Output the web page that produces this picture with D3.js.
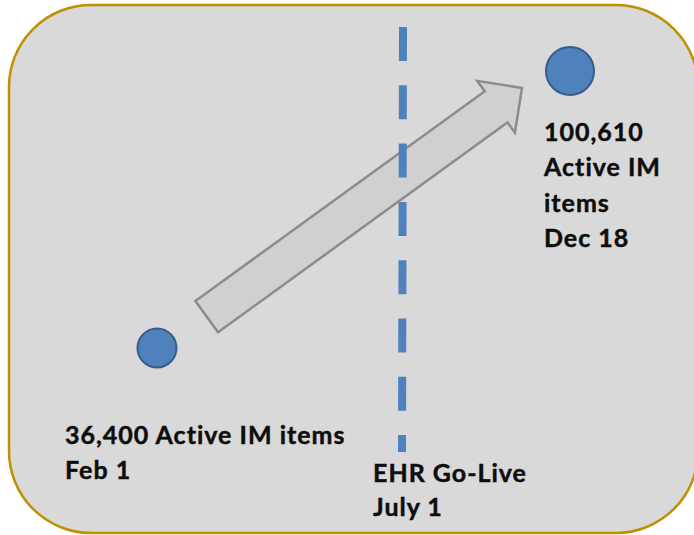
<!DOCTYPE html>
<html>
<head>
<meta charset="utf-8">
<script src="https://cdn.jsdelivr.net/npm/d3@7"></script>
<style>
  html, body { margin: 0; padding: 0; background: #ffffff; }
  svg { display: block; }
  text { font-family: Lato, "Open Sans", sans-serif; font-weight: 700; fill: #0d0d0d; stroke: #0d0d0d; stroke-width: 0.45; }
</style>
</head>
<body>
<svg id="chart" width="694" height="535"></svg>
<script>
// ---- data ----
const dates = ["Feb 1", "July 1", "Dec 18"];
const pointDates = ["Feb 1", "Dec 18"];
const activeItems = [36400, 100610];
const startLabel = ["36,400 Active IM items", "Feb 1"];
const endLabel = ["100,610", "Active IM", "items", "Dec 18"];
const goLiveLabel = ["EHR Go-Live", "July 1"];

const svg = d3.select("#chart");

// scales
const x = d3.scaleOrdinal().domain(dates).range([157, 403, 570]);
const y = d3.scaleLinear().domain([36400, 100610]).range([348, 71]);
const r = d3.scaleLinear().domain([36400, 100610]).range([19.5, 24]);

// background panel
svg.append("rect")
  .attr("x", 9).attr("y", 5).attr("width", 689).attr("height", 528)
  .attr("rx", 82).attr("ry", 82)
  .attr("fill", "#d9d9d9").attr("stroke", "#bf9000").attr("stroke-width", 2.5);

// arrow (from near start point to near end point)
const tail = [206.7, 316.7], tip = [522, 88];
const dx = tip[0] - tail[0], dy = tip[1] - tail[1];
const len = Math.hypot(dx, dy);
const ang = Math.atan2(dy, dx) * 180 / Math.PI;
const sw = 19.3, hw = 32, hl = 32;
const arrowPts = [[0, -sw], [len - hl, -sw], [len - hl, -hw], [len, 0], [len - hl, hw], [len - hl, sw], [0, sw]];
svg.append("path")
  .attr("d", d3.line()(arrowPts) + "Z")
  .attr("transform", `translate(${tail[0]},${tail[1]}) rotate(${ang})`)
  .attr("fill", "#d0d0d0").attr("stroke", "#8c8c8c").attr("stroke-width", 2.5)
  .attr("stroke-linejoin", "miter");

// dashed go-live line
svg.append("line")
  .attr("x1", x("July 1")).attr("x2", x("July 1") - 1)
  .attr("y1", 27).attr("y2", 452)
  .attr("stroke", "#4f81bd").attr("stroke-width", 8)
  .attr("stroke-dasharray", "34,24.3");

// points
svg.selectAll("circle.pt").data(activeItems).join("circle")
  .attr("class", "pt")
  .attr("cx", (d, i) => x(pointDates[i]))
  .attr("cy", d => y(d))
  .attr("r", d => r(d))
  .attr("fill", "#4f81bd").attr("stroke", "#385d8a").attr("stroke-width", 2);

// labels
const fs = 25;
function lines(arr, x0, y0, lh) {
  const t = svg.append("text").attr("font-size", fs).attr("letter-spacing", 1);
  arr.forEach((s, i) => t.append("tspan").attr("x", x0).attr("y", y0 + i * lh).text(s));
}
lines(startLabel, 65, 444, 34.5);
lines(endLabel, 544, 141, 35.3);
lines(goLiveLabel, 373, 482, 34);
</script>
</body>
</html>
